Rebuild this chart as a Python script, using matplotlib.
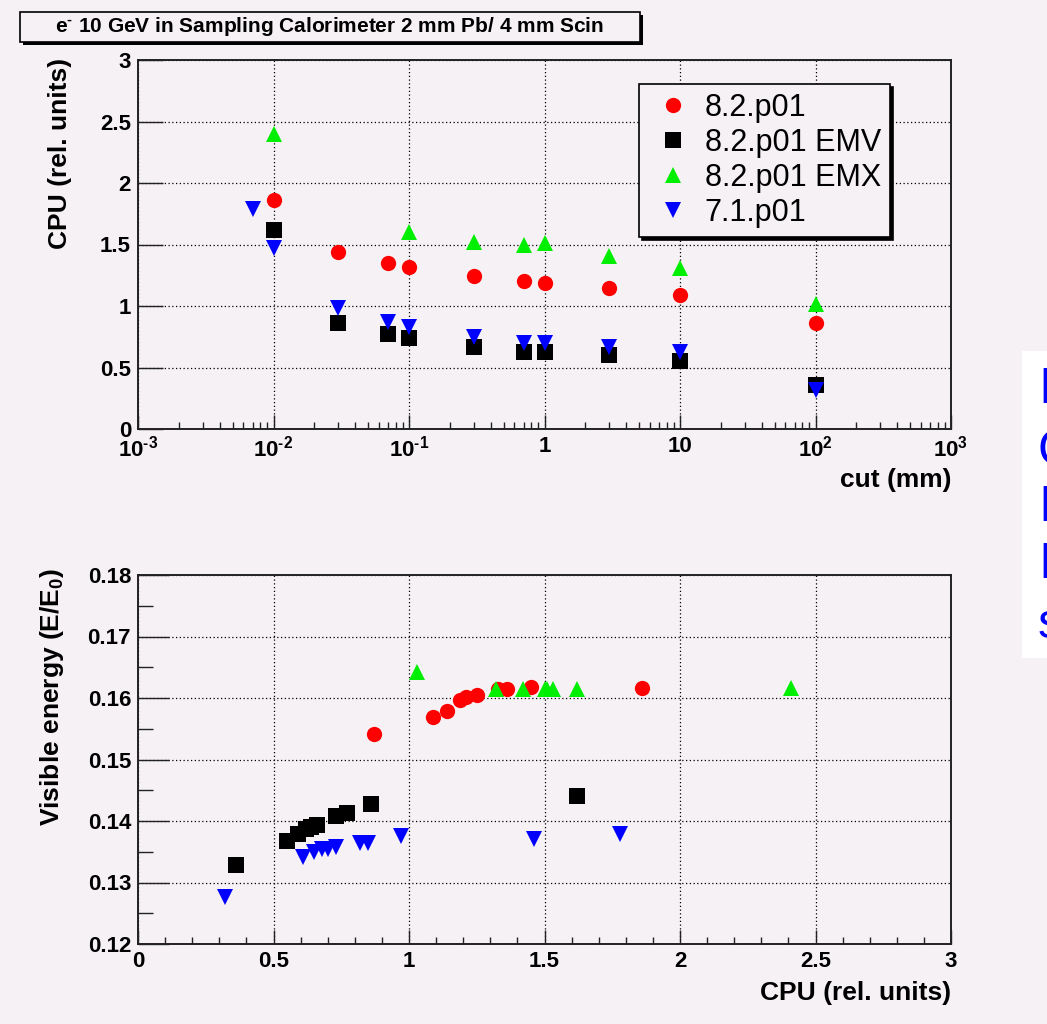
"""
CPU time and visible energy for e- 10 GeV in a sampling calorimeter
(2 mm Pb / 4 mm Scin), Geant4 versions and EM options
"""

import matplotlib
matplotlib.use('Agg')
import matplotlib.pyplot as plt
from matplotlib.patches import Rectangle
from matplotlib.ticker import MultipleLocator, LogLocator, NullFormatter

plt.rcParams['font.family'] = ['Liberation Sans', 'DejaVu Sans']
plt.rcParams['mathtext.fontset'] = 'custom'
plt.rcParams['mathtext.rm'] = 'Liberation Sans:bold'
plt.rcParams['mathtext.bf'] = 'Liberation Sans:bold'
plt.rcParams['mathtext.it'] = 'Liberation Sans:bold'

BG = '#f5f1f4'

# ---- top panel: CPU vs production cut (mm) ----
cut_82 = [0.01, 0.03, 0.07, 0.1, 0.3, 0.7, 1, 3, 10, 100]
cpu_82 = [1.86, 1.44, 1.35, 1.32, 1.24, 1.20, 1.19, 1.15, 1.09, 0.86]

cut_emv = [0.01, 0.03, 0.07, 0.1, 0.3, 0.7, 1, 3, 10, 100]
cpu_emv = [1.62, 0.86, 0.77, 0.74, 0.67, 0.63, 0.63, 0.60, 0.55, 0.36]

cut_emx = [0.01, 0.1, 0.3, 0.7, 1, 3, 10, 100]
cpu_emx = [2.40, 1.60, 1.52, 1.50, 1.51, 1.41, 1.31, 1.02]

cut_71 = [0.007, 0.01, 0.03, 0.07, 0.1, 0.3, 0.7, 1, 3, 10, 100]
cpu_71 = [1.79, 1.47, 0.98, 0.87, 0.83, 0.75, 0.70, 0.70, 0.67, 0.63, 0.32]

# ---- bottom panel: visible energy vs CPU ----
ecpu_82 = [0.87, 1.09, 1.14, 1.19, 1.21, 1.25, 1.33, 1.36, 1.45, 1.86]
evis_82 = [0.1542, 0.1569, 0.1579, 0.1596, 0.1601, 0.1605, 0.1615, 0.1615, 0.1618, 0.1616]

ecpu_emv = [0.36, 0.55, 0.59, 0.62, 0.64, 0.66, 0.73, 0.77, 0.86, 1.62]
evis_emv = [0.1328, 0.1368, 0.1379, 0.1387, 0.1390, 0.1393, 0.1408, 0.1413, 0.1428, 0.1440]

ecpu_emx = [1.03, 1.32, 1.42, 1.50, 1.51, 1.53, 1.62, 2.41]
evis_emx = [0.1642, 0.1615, 0.1615, 0.1614, 0.1614, 0.1614, 0.1615, 0.1616]

ecpu_71 = [0.32, 0.61, 0.65, 0.68, 0.70, 0.73, 0.82, 0.85, 0.97, 1.46, 1.78]
evis_71 = [0.1277, 0.1342, 0.1350, 0.1354, 0.1355, 0.1358, 0.1364, 0.1365, 0.1375, 0.1370, 0.1379]

labels = ['8.2.p01', '8.2.p01 EMV', '8.2.p01 EMX', '7.1.p01']
styles = [('o', '#ff0000', 11), ('s', '#000000', 11), ('^', '#00ee00', 12), ('v', '#0000ff', 12)]

top_x_ticks = [1e-3, 1e-2, 1e-1, 1, 10, 100, 1000]
top_x_labels = [r'$10^{\text{-}3}$', r'$10^{\text{-}2}$', r'$10^{\text{-}1}$', '1', '10',
                r'$10^{2}$', r'$10^{3}$']
top_y_ticks = [0, 0.5, 1, 1.5, 2, 2.5, 3]
top_y_labels = ['0', '0.5', '1', '1.5', '2', '2.5', '3']
bot_x_ticks = [0, 0.5, 1, 1.5, 2, 2.5, 3]
bot_x_labels = ['0', '0.5', '1', '1.5', '2', '2.5', '3']
bot_y_ticks = [0.12, 0.13, 0.14, 0.15, 0.16, 0.17, 0.18]
bot_y_labels = ['0.12', '0.13', '0.14', '0.15', '0.16', '0.17', '0.18']

W, H = 1047, 1024
fig = plt.figure(figsize=(W / 100, H / 100), dpi=100)
fig.patch.set_facecolor(BG)


def fx(px):
    return px / W


def fy(py):
    return 1 - py / H


def style_axes(ax):
    ax.set_facecolor(BG)
    for s in ax.spines.values():
        s.set_linewidth(1.4)
        s.set_color('#222222')
    ax.grid(True, which='major', color='black', linestyle=(0, (1, 2)), linewidth=0.9)
    ax.tick_params(which='both', direction='in', top=False, right=False,
                   labelsize=16, width=1.0, color='#222222')
    for lab in ax.get_xticklabels() + ax.get_yticklabels():
        lab.set_fontweight('bold')


# top panel
ax1 = fig.add_axes([fx(138), fy(429), fx(951 - 138), (429 - 60) / H])
series_top = [(cut_82, cpu_82), (cut_emv, cpu_emv), (cut_emx, cpu_emx), (cut_71, cpu_71)]
for (x, y), (m, c, ms), lab in zip(series_top, styles, labels):
    ax1.plot(x, y, linestyle='none', marker=m, color=c, markersize=ms,
             markeredgewidth=0, label=lab)
ax1.set_xscale('log')
ax1.set_xlim(1e-3, 1e3)
ax1.set_ylim(0, 3)
ax1.set_xticks(top_x_ticks)
ax1.set_xticklabels(top_x_labels)
ax1.xaxis.set_minor_locator(LogLocator(base=10, subs=range(2, 10), numticks=20))
ax1.xaxis.set_minor_formatter(NullFormatter())
ax1.set_yticks(top_y_ticks)
ax1.set_yticklabels(top_y_labels)
style_axes(ax1)
ax1.tick_params(axis='y', which='major', length=18, pad=5)
ax1.tick_params(axis='x', which='major', length=10, pad=5)
ax1.tick_params(axis='x', which='minor', length=5)

leg = ax1.legend(loc='upper left', bbox_to_anchor=(fx(639), fy(84)),
                 bbox_transform=fig.transFigure, borderaxespad=0,
                 fancybox=False, edgecolor='black', framealpha=1,
                 facecolor=BG, prop={'size': 22}, handletextpad=0.25,
                 labelspacing=0.16, borderpad=0.3, handlelength=1.6,
                 shadow={'color': 'black', 'alpha': 1})
leg.get_frame().set_linewidth(1.2)

fig.text(fx(951), fy(480), 'cut (mm)', ha='right', va='center',
         fontsize=19, fontweight='bold')
fig.text(fx(60), fy(58), 'CPU (rel. units)', ha='center', va='top',
         rotation=90, fontsize=19, fontweight='bold')

# bottom panel
ax2 = fig.add_axes([fx(138), fy(944), fx(951 - 138), (944 - 575) / H])
series_bot = [(ecpu_82, evis_82), (ecpu_emv, evis_emv), (ecpu_emx, evis_emx), (ecpu_71, evis_71)]
for (x, y), (m, c, ms), lab in zip(series_bot, styles, labels):
    ax2.plot(x, y, linestyle='none', marker=m, color=c, markersize=ms,
             markeredgewidth=0, label=lab)
ax2.set_xlim(0, 3)
ax2.set_ylim(0.12, 0.18)
ax2.set_xticks(bot_x_ticks)
ax2.set_xticklabels(bot_x_labels)
ax2.set_yticks(bot_y_ticks)
ax2.set_yticklabels(bot_y_labels)
ax2.xaxis.set_minor_locator(MultipleLocator(0.1))
ax2.yaxis.set_minor_locator(MultipleLocator(0.005))
style_axes(ax2)
ax2.tick_params(axis='y', which='major', length=22, pad=5)
ax2.tick_params(axis='y', which='minor', length=11)
ax2.tick_params(axis='x', which='major', length=10, pad=5)
ax2.tick_params(axis='x', which='minor', length=5)

fig.text(fx(951), fy(993), 'CPU (rel. units)', ha='right', va='center',
         fontsize=19, fontweight='bold')
fig.text(fx(52), fy(568), r'Visible energy (E/E$_{0}$)', ha='center', va='top',
         rotation=90, fontsize=19, fontweight='bold')

# title box with shadow
fig.patches.append(Rectangle((fx(23), fy(45)), fx(620), (45 - 15) / H,
                             transform=fig.transFigure, facecolor='black',
                             edgecolor='none', zorder=1))
fig.patches.append(Rectangle((fx(20), fy(42)), fx(620), (42 - 12) / H,
                             transform=fig.transFigure, facecolor=BG,
                             edgecolor='black', linewidth=1.2, zorder=2))
fig.text(fx(330), fy(27), r'e$^{\text{-}}$ 10 GeV in Sampling Calorimeter 2 mm Pb/ 4 mm Scin',
         ha='center', va='center', fontsize=15, fontweight='bold', zorder=3)

# edge of the next slide element (white box with blue text cut off)
fig.patches.append(Rectangle((fx(1022), fy(658)), fx(40), (658 - 351) / H,
                             transform=fig.transFigure, facecolor='white',
                             edgecolor='none', zorder=1))
for ypx, ch in zip([390, 452, 508, 565, 625], ['I', 'C', 'I', 'I', 's']):
    fig.text(fx(1038), fy(ypx), ch, ha='left', va='center', fontsize=36,
             color='#0000ff', zorder=3)

fig.savefig('out.png', dpi=100, facecolor=BG)
